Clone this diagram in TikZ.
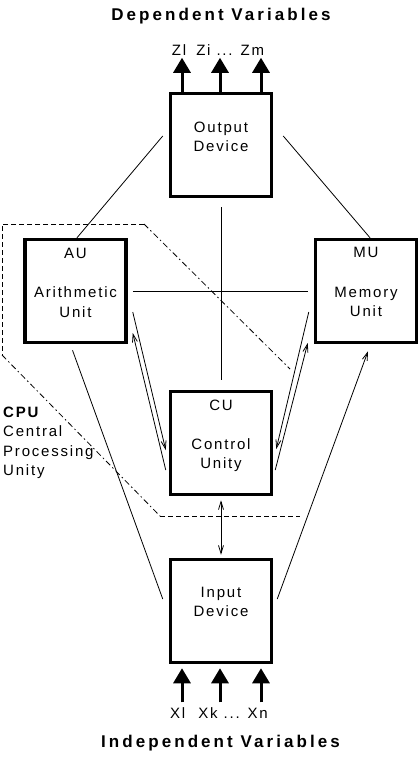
\documentclass[tikz,border=0pt]{standalone}
\usepackage{fontspec}
\setmainfont{Liberation Sans}[LetterSpace=12]
\newfontfamily\headfont{Liberation Sans}[LetterSpace=18]
\usetikzlibrary{arrows.meta,calc}
\begin{document}
\begin{tikzpicture}[x=1pt,y=-1pt,
 box/.style={draw,line width=3.5pt,minimum width=101pt,minimum height=103pt,inner sep=0pt},
 txt/.style={align=center,font=\fontsize{15}{19.5}\selectfont,inner sep=0pt},
 thin/.style={line width=0.8pt},
 varrow/.style={line width=3pt,-{Triangle[length=15pt,width=17pt]}},
 oarrow/.style={thin,-{Straight Barb[length=8pt,width=5pt]}},
 darrow/.style={thin,{Straight Barb[length=8pt,width=5pt]}-{Straight Barb[length=8pt,width=5pt]}},
 cpuline/.style={line width=0.8pt,dash pattern=on 5pt off 3pt},
 cpudot/.style={line width=0.8pt,dash pattern=on 6pt off 3pt on 1.5pt off 3pt},
 head/.style={font=\headfont\bfseries\fontsize{17}{20}\selectfont,inner sep=0pt}]
\useasboundingbox (0,0) rectangle (420,758);

% boxes
\node[box] (out) at (221,145) {};
\node[box] (au) at (75.5,291) {};
\node[box] (mu) at (366,291) {};
\node[box] (cu) at (221,443) {};
\node[box] (inp) at (221,611) {};

% texts
\node[head] (dep) at (221,16) {Dependent Variables};
\node[head] (indep) at (220.5,743) {Independent Variables};
\node[txt] (zlab) at (218,50) {Zl\hspace{10pt}Zi ... Zm};
\node[txt] (xlab) at (219,713) {Xl\hspace{13pt}Xk ... Xn};
\node[txt] (outT) at (221,137) {Output\\Device};
\node[txt] (auT1) at (75.5,253) {AU};
\node[txt] (auT2) at (75.5,302) {Arithmetic\\Unit};
\node[txt] (muT1) at (366,252) {MU};
\node[txt] (muT2) at (366,302) {Memory\\Unit};
\node[txt] (cuT1) at (221,405) {CU};
\node[txt] (cuT2) at (221,455) {Control\\Unity};
\node[txt] (inpT) at (221,602) {Input\\Device};
\node[txt,align=left,anchor=west] (cpuT) at (3,443) {{\bfseries CPU}\\Central\\Processing\\Unity};

% thick variable arrows
\foreach \dx in {-39,-1,40}{
  \draw[varrow] ($(out.north)+(\dx,0)$) -- ($(out.north)+(\dx,-34)$);
  \draw[varrow] ($(inp.south)+(\dx,38)$) -- ($(inp.south)+(\dx,4)$);
}

% thin connectors
\draw[thin] ($(out.west)+(-6,-9)$) -- ($(au.north)+(1.5,0)$);
\draw[thin] ($(out.east)+(10,-9)$) -- ($(mu.north)+(4,0)$);
\draw[thin] ($(out.south)+(0,9)$) -- ($(cu.north)+(0,-10)$);
\draw[thin] ($(au.east)+(5,0)$) -- ($(mu.west)+(-6,0)$);
\draw[thin] ($(au.south)+(-3,6)$) -- ($(inp.west)+(-6,-12)$);
\draw[oarrow] ($(inp.east)+(4,-12)$) -- ($(mu.south)+(2,7)$);
\draw[darrow] ($(cu.south)+(0,4)$) -- ($(inp.north)+(0,-3)$);
\draw[oarrow] ($(au.east)+(5,21)$) -- ($(cu.west)+(-3,7)$);
\draw[oarrow] ($(cu.west)+(-3,27)$) -- ($(au.east)+(5,42)$);
\draw[oarrow] ($(mu.west)+(-5,21)$) -- ($(cu.east)+(3,6)$);
\draw[oarrow] ($(cu.east)+(2,27)$) -- ($(mu.west)+(-6,52)$);

% CPU boundary
\draw[cpuline] (144,224) -- (2,224) -- (2,355);
\draw[cpudot] (2,355) -- (160,516);
\draw[cpuline] (160,516) -- (300,516);
\draw[cpudot] (144,224) -- (290,369);
\end{tikzpicture}
\end{document}
